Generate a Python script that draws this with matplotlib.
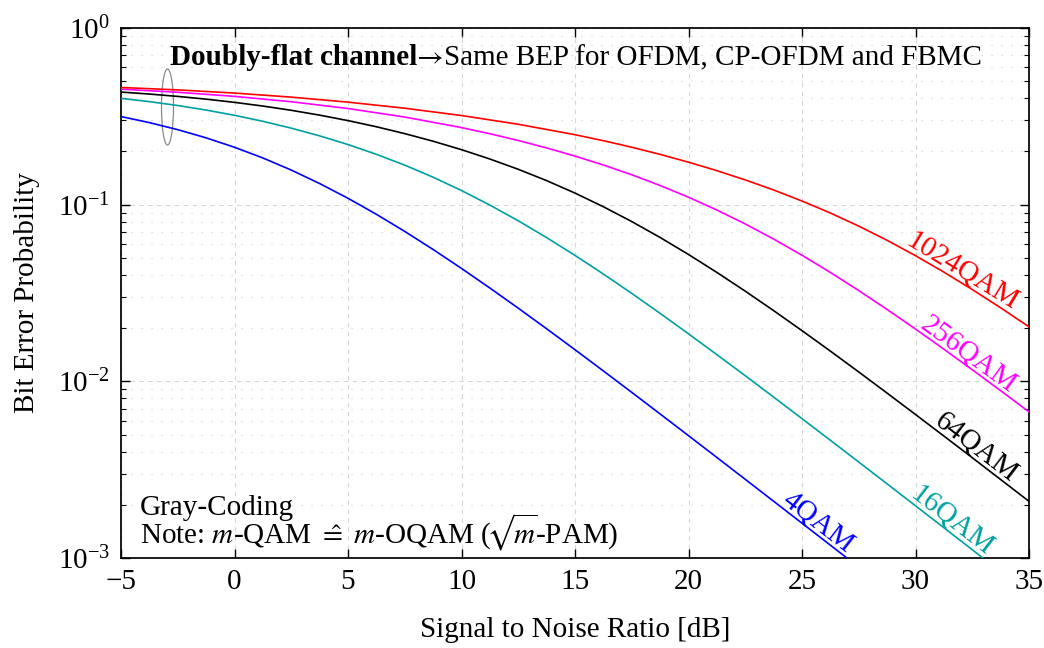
import numpy as np
import matplotlib
matplotlib.use("Agg")
import matplotlib.pyplot as plt
from matplotlib.patches import Ellipse
from matplotlib.font_manager import FontProperties
from matplotlib.ticker import LogLocator, MultipleLocator, NullFormatter

# Signal-to-noise ratio samples [dB] and bit error probability (Gray coding,
# doubly-flat channel) for each constellation size
snr_4qam = [-5.0, -3.75, -2.5, -1.25, 0.0, 1.25, 2.5, 3.75, 5.0, 6.25, 7.5, 8.75,
            10.0, 11.25, 12.5, 13.75, 15.0, 16.25, 17.5, 18.75, 20.0, 21.25,
            22.5, 23.75, 25.0, 26.25, 27.5]
bep_4qam = [0.3153, 0.2914, 0.2658, 0.2389, 0.2113, 0.1838, 0.1570, 0.1317,
            0.1087, 0.08821, 0.07057, 0.05575, 0.04356, 0.03374, 0.02595,
            0.01984, 0.01510, 0.01145, 0.008661, 0.006537, 0.004926, 0.003708,
            0.002788, 0.002095, 0.001574, 0.001182, 0.000887]

snr_16qam = [-5.0, -3.75, -2.5, -1.25, 0.0, 1.25, 2.5, 3.75, 5.0, 6.25, 7.5, 8.75,
             10.0, 11.25, 12.5, 13.75, 15.0, 16.25, 17.5, 18.75, 20.0, 21.25,
             22.5, 23.75, 25.0, 26.25, 27.5, 28.75, 30.0, 31.25, 32.5, 33.75, 35.0]
bep_16qam = [0.3998, 0.3830, 0.3641, 0.3432, 0.3205, 0.2964, 0.2711, 0.2452,
             0.2189, 0.1928, 0.1674, 0.1430, 0.1202, 0.09949, 0.08107, 0.06511,
             0.05163, 0.04049, 0.03146, 0.02425, 0.01858, 0.01416, 0.01076,
             0.008144, 0.006151, 0.004638, 0.003493, 0.002627, 0.001975,
             0.001484, 0.001114, 0.000836, 0.000628]

snr_64qam = [-5.0, -3.75, -2.5, -1.25, 0.0, 1.25, 2.5, 3.75, 5.0, 6.25, 7.5, 8.75,
             10.0, 11.25, 12.5, 13.75, 15.0, 16.25, 17.5, 18.75, 20.0, 21.25,
             22.5, 23.75, 25.0, 26.25, 27.5, 28.75, 30.0, 31.25, 32.5, 33.75, 35.0]
bep_64qam = [0.4339, 0.4228, 0.4100, 0.3956, 0.3794, 0.3616, 0.3421, 0.3212,
             0.2991, 0.2761, 0.2524, 0.2286, 0.2048, 0.1813, 0.1586, 0.1368,
             0.1163, 0.09733, 0.08025, 0.06520, 0.05225, 0.04136, 0.03239,
             0.02514, 0.01936, 0.01483, 0.01130, 0.008575, 0.006491, 0.004902,
             0.003696, 0.002782, 0.002093]

snr_256qam = [-5.0, -2.5, 0.0, 2.5, 5.0, 7.5, 10.0, 11.25, 12.5, 13.75, 15.0,
              16.25, 17.5, 18.75, 20.0, 21.25, 22.5, 23.75, 25.0, 26.25, 27.5,
              28.75, 30.0, 31.25, 32.5, 33.75, 35.0]
bep_256qam = [0.4506, 0.4328, 0.4102, 0.3825, 0.3501, 0.3133, 0.2731, 0.2521,
              0.2308, 0.2095, 0.1884, 0.1677, 0.1477, 0.1284, 0.1102, 0.09326,
              0.07776, 0.06387, 0.05173, 0.04134, 0.03264, 0.02551, 0.01977,
              0.01521, 0.01163, 0.008855, 0.006718]

snr_1024qam = [-5.0, -2.5, 0.0, 2.5, 5.0, 7.5, 10.0, 12.5, 15.0, 16.25, 17.5,
               18.75, 20.0, 21.25, 22.5, 23.75, 25.0, 26.25, 27.5, 28.75, 30.0,
               31.25, 32.5, 33.75, 35.0]
bep_1024qam = [0.4606, 0.4463, 0.4283, 0.4062, 0.3805, 0.3515, 0.3196, 0.2852,
               0.2489, 0.2302, 0.2114, 0.1926, 0.1740, 0.1558, 0.1381, 0.1211,
               0.1049, 0.08970, 0.07562, 0.06282, 0.05144, 0.04153, 0.03310,
               0.02608, 0.02035]

series_names = ["4QAM", "16QAM", "64QAM", "256QAM", "1024QAM"]
series_snr = [snr_4qam, snr_16qam, snr_64qam, snr_256qam, snr_1024qam]
series_bep = [bep_4qam, bep_16qam, bep_64qam, bep_256qam, bep_1024qam]
series_colors = ["#0000ff", "#00a0a0", "#000000", "#ff00ff", "#ff0000"]
# where along each curve its name is written [dB]
label_snr = [25.43, 31.3, 32.39, 32.06, 31.8]

FONT_SIZE = 21
plt.rcParams.update({
    "font.size": FONT_SIZE,
    "mathtext.fontset": "stix",
    "axes.linewidth": 1.25,
    "axes.unicode_minus": True,
})
plt.rcParams["font.family"] = ["Liberation Serif", "DejaVu Serif"]

fig = plt.figure(figsize=(10.44, 6.48), dpi=100)
ax = fig.add_axes([121 / 1044, 90 / 648, 908 / 1044, 530 / 648])

ax.set_yscale("log")
ax.set_xlim(-5, 35)
ax.set_ylim(1e-3, 1)
ax.xaxis.set_major_locator(MultipleLocator(5))
ax.yaxis.set_major_locator(LogLocator(base=10, numticks=10))
ax.yaxis.set_minor_locator(LogLocator(base=10, subs=np.arange(2, 10), numticks=20))
ax.yaxis.set_minor_formatter(NullFormatter())

ax.set_axisbelow(True)
ax.grid(True, which="major", color="#d6d6d6", linestyle=(0, (4, 4)), linewidth=0.8)
ax.grid(True, which="minor", axis="y", color="#cfcfcf", linestyle=(0, (1, 8)), linewidth=0.8)

ax.tick_params(which="both", direction="in", top=True, right=True)
ax.tick_params(which="major", length=6.5, width=1.0, pad=8)
ax.tick_params(which="minor", length=3.3, width=0.8)

for xs, vals, col in zip(series_snr, series_bep, series_colors):
    ax.plot(xs, vals, color=col, linewidth=1.2, zorder=3)

# curve names written along the curves
for name, xs, vals, col, lx in zip(series_names, series_snr, series_bep,
                                   series_colors, label_snr):
    xs_arr = np.asarray(xs)
    logv = np.log10(vals)
    val_at = lambda x: 10 ** np.interp(x, xs_arr, logv)
    p1 = ax.transData.transform((lx - 1.0, val_at(lx - 1.0)))
    p2 = ax.transData.transform((lx + 1.0, val_at(lx + 1.0)))
    ang = np.arctan2(p2[1] - p1[1], p2[0] - p1[0])
    off = 2.5
    ax.annotate(name, xy=(lx, val_at(lx)),
                xytext=(-np.sin(ang) * off, np.cos(ang) * off),
                textcoords="offset points", rotation=np.degrees(ang),
                rotation_mode="anchor", ha="center", va="baseline",
                color=col, zorder=4)

# bracket grouping the curves at low SNR
ax.add_patch(Ellipse((0.0512, 0.851), 0.0132, 0.1434, transform=ax.transAxes,
                     fill=False, edgecolor="#8a8a8a", linewidth=0.9, zorder=2))

# headline: bold part, arrow, regular part, set one after another
fig.canvas.draw()
head_y = 0.9302
t1 = ax.text(0.054, head_y, "Doubly-flat channel", transform=ax.transAxes,
             fontweight="bold", ha="left", va="baseline")
fig.canvas.draw()
x2 = ax.transAxes.inverted().transform((t1.get_window_extent().x1, 0))[0]
t2 = ax.text(x2, head_y, "\u2192", transform=ax.transAxes, family=["STIXGeneral"],
             ha="left", va="baseline")
fig.canvas.draw()
x3 = ax.transAxes.inverted().transform((t2.get_window_extent().x1, 0))[0]
ax.text(x3, head_y, "Same BEP for OFDM, CP-OFDM and FBMC", transform=ax.transAxes,
        ha="left", va="baseline")

# two-line note in the lower left corner
note_lines = ["Gray-Coding",
              r"Note: $m$-QAM $\hat{=}$ $m$-OQAM ($\!\sqrt{\!m\!}$-PAM)"]
renderer = fig.canvas.get_renderer()
fp = FontProperties(family=plt.rcParams["font.family"], size=FONT_SIZE)
_, lp_h, lp_d = renderer.get_text_width_height_descent("lp", fp, ismath=False)
_, h1, d1 = renderer.get_text_width_height_descent(note_lines[0], fp, ismath=False)
_, h2, d2 = renderer.get_text_width_height_descent(note_lines[1], fp, ismath=True)
h1, d1 = max(h1, lp_h), max(d1, lp_d)
h2, d2 = max(h2, lp_h), max(d2, lp_d)
line_gap = 28.6  # baseline to baseline, pixels
spacing = (line_gap - d1) / max(lp_h - lp_d, h2 - d2)
base1 = ax.transAxes.transform((0.0204, 0.0817))
top_axes = ax.transAxes.inverted().transform((base1[0], base1[1] + (h1 - d1)))
ax.text(top_axes[0], top_axes[1], "\n".join(note_lines), transform=ax.transAxes,
        ha="left", va="top", linespacing=spacing, multialignment="left")

ax.set_xlabel("Signal to Noise Ratio [dB]", va="center")
ax.xaxis.set_label_coords(0.5, -0.1358)
ax.set_ylabel("Bit Error Probability", va="center")
ax.yaxis.set_label_coords(-0.1030, 0.5)

fig.savefig("out.png", dpi=100)
